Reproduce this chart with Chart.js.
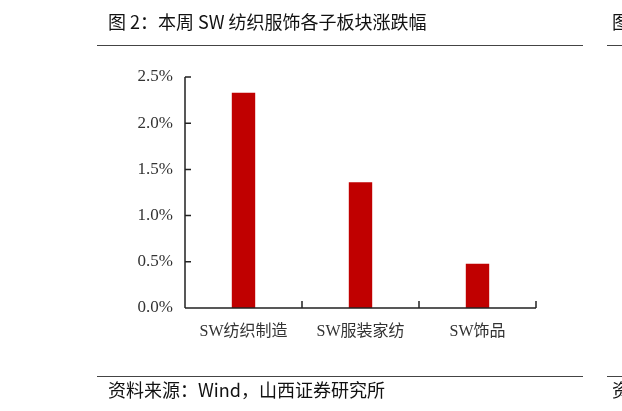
<!DOCTYPE html>
<html>
<head>
<meta charset="utf-8">
<script src="https://cdn.jsdelivr.net/npm/chart.js@4"></script>
<style>
  html, body { margin: 0; padding: 0; background: #fff; }
  #wrap { position: relative; width: 622px; height: 411px; overflow: hidden; }
  canvas { position: absolute; left: 0; top: 0; }
  .t { position: absolute; font-family: "Noto Sans CJK SC", "Noto Sans", sans-serif; color: #111; white-space: nowrap; }
  .ln { position: absolute; height: 0; border-top: 1.5px solid #444; }
</style>
</head>
<body>
<div id="wrap">
  <canvas id="c" width="622" height="411"></canvas>
  <div class="t" id="title" style="left:108px; top:8px; font-size:18px;"></div>
  <div class="ln" style="left:97px; width:486px; top:45px;"></div>
  <div class="ln" style="left:607px; width:20px; top:45px;"></div>
  <div class="t" style="left:612px; top:8px; font-size:18px;">图</div>
  <div class="ln" style="left:97px; width:486px; top:376px;"></div>
  <div class="ln" style="left:607px; width:20px; top:376px;"></div>
  <div class="t" id="source" style="left:108px; top:376px; font-size:18px;"></div>
  <div class="t" style="left:612px; top:376px; font-size:18px;">资</div>
</div>
<script>
const titleText = "图 2：本周 SW 纺织服饰各子板块涨跌幅";
const sourceText = "资料来源：Wind，山西证券研究所";
const categories = ["SW纺织制造", "SW服装家纺", "SW饰品"];
const changePct = [2.33, 1.36, 0.48];
const yTicks = [0, 0.5, 1.0, 1.5, 2.0, 2.5];

document.getElementById('title').textContent = titleText;
document.getElementById('source').textContent = sourceText;

const axisPlugin = {
  id: 'axisPlugin',
  afterDraw(chart) {
    const ctx = chart.ctx;
    const x = chart.scales.x, y = chart.scales.y;
    const ca = chart.chartArea;
    ctx.save();
    ctx.strokeStyle = '#222';
    ctx.lineWidth = 1.5;
    ctx.beginPath();
    ctx.moveTo(ca.left, y.getPixelForValue(yTicks[yTicks.length - 1]));
    ctx.lineTo(ca.left, y.getPixelForValue(0));
    ctx.moveTo(ca.left, y.getPixelForValue(0));
    ctx.lineTo(ca.right, y.getPixelForValue(0));
    yTicks.forEach(v => {
      const py = y.getPixelForValue(v);
      ctx.moveTo(ca.left, py);
      ctx.lineTo(ca.left + 6, py);
    });
    const y0 = y.getPixelForValue(0);
    for (let i = 1; i <= categories.length; i++) {
      const px = (i < categories.length)
        ? (x.getPixelForValue(i - 1) + x.getPixelForValue(i)) / 2
        : ca.right;
      ctx.moveTo(px, y0);
      ctx.lineTo(px, y0 - 7);
    }
    ctx.stroke();
    ctx.restore();
  }
};

new Chart(document.getElementById('c'), {
  type: 'bar',
  data: {
    labels: categories,
    datasets: [{
      data: changePct,
      backgroundColor: '#C00000',
      borderWidth: 0,
      barPercentage: 0.2,
      categoryPercentage: 1.0
    }]
  },
  options: {
    responsive: false,
    animation: false,
    devicePixelRatio: 1,
    layout: { padding: { left: 0, right: 86, top: 77, bottom: 53 } },
    plugins: { legend: { display: false }, tooltip: { enabled: false }, title: { display: false } },
    scales: {
      x: {
        offset: true,
        grid: { display: false, drawTicks: false },
        border: { display: false },
        afterFit: s => { s.height = 50; },
        ticks: {
          padding: 14,
          color: '#333',
          font: { family: '"Liberation Serif", "Noto Sans CJK SC", serif', size: 16 },
          maxRotation: 0
        }
      },
      y: {
        min: 0, max: 2.5,
        afterFit: s => { s.width = 185; },
        afterBuildTicks: s => { s.ticks = yTicks.map(v => ({ value: v })); },
        grid: { display: false, drawTicks: false },
        border: { display: false },
        ticks: {
          padding: 12,
          color: '#333',
          font: { family: '"Liberation Serif", serif', size: 17 },
          callback: v => v.toFixed(1) + '%'
        }
      }
    }
  },
  plugins: [axisPlugin]
});
</script>
</body>
</html>
